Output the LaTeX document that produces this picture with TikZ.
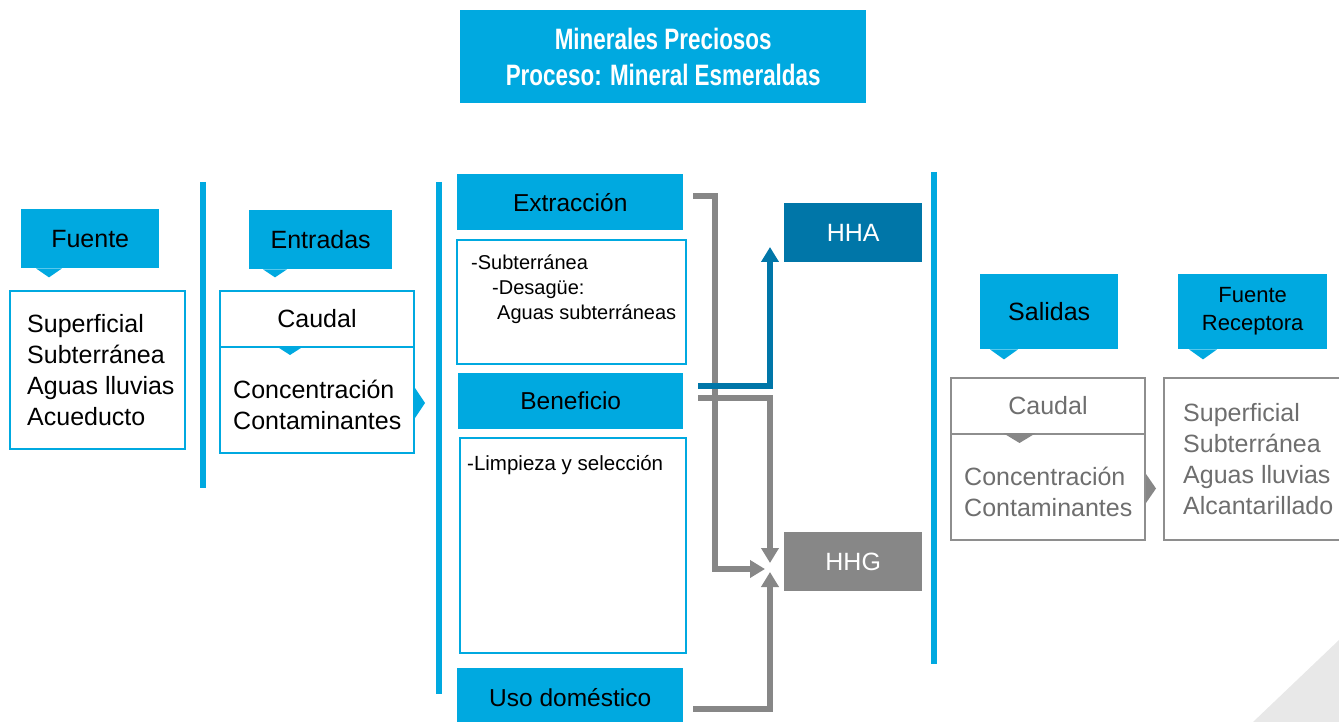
\documentclass[tikz,border=0pt]{standalone}
\usepackage{fontspec}
\setmainfont{Liberation Sans}
\usetikzlibrary{arrows.meta}
\definecolor{cyanA}{HTML}{00A9E0}
\definecolor{blueA}{HTML}{0076A8}
\definecolor{grayA}{HTML}{878787}
\definecolor{grayB}{HTML}{8E8E8E}
\definecolor{grayT}{HTML}{6E6E6E}
\definecolor{grayL}{HTML}{E8E8E8}
\newcommand{\fsz}[2]{\fontsize{#1}{#2}\selectfont}
\tikzset{>={Triangle[width=17pt,length=15pt]}}

\begin{document}
\begin{tikzpicture}[x=1pt,y=-1pt,
    hdr/.style={fill=cyanA, inner sep=0, anchor=north west, align=center},
    stage/.style={fill=cyanA, inner sep=0, anchor=north west, minimum width=226, minimum height=56, font=\fsz{24.5}{28}},
    cbox/.style={draw=cyanA, line width=2, inner sep=0, anchor=north west},
    gbox/.style={draw=grayB, line width=2, inner sep=0, anchor=north west, text=grayT},
    hh/.style={inner sep=0, anchor=north west, minimum width=138, minimum height=59, text=white, font=\fsz{25}{28}},
    list/.style={inner sep=0, anchor=west, align=left, font=\fsz{25}{31}},
    sep/.style={draw=cyanA, line width=6},
    gline/.style={draw=grayA, line width=6},
    bline/.style={draw=blueA, line width=6}]
    \useasboundingbox (0,0) rectangle (1339,722);

    \fill[grayL] (1253,722) -- (1339,640) -- (1339,722) -- cycle;

    \node[fill=cyanA, inner sep=0, anchor=north west, minimum width=406, minimum height=93,
        text=white, align=center, font=\fsz{29.5}{36}\bfseries] (title) at (460,10)
        {\scalebox{0.76}[1]{Minerales Preciosos}\\\scalebox{0.76}[1]{Proceso: Mineral Esmeraldas}};

    \draw[sep] (203,182) -- (203,488);
    \draw[sep] (439,182) -- (439,694);
    \draw[sep] (934,172) -- (934,664);

    \node[hdr, minimum width=138, minimum height=59, font=\fsz{25}{28}] (fhdr) at (21,209) {Fuente};
    \fill[cyanA] ([xshift=15]fhdr.south west) -- ++(13,9) -- ++(13,-9) -- cycle;
    \node[cbox, minimum width=175, minimum height=158] (fsrc) at (9,290) {};
    \node[list] (fsrctxt) at ([xshift=18]fsrc.west) {Superficial\\Subterránea\\Aguas lluvias\\Acueducto};

    \node[hdr, minimum width=143, minimum height=59, font=\fsz{25}{28}] (ehdr) at (249,210) {Entradas};
    \fill[cyanA] ([xshift=14]ehdr.south west) -- ++(12,8) -- ++(12,-8) -- cycle;
    \node[cbox, minimum width=194, minimum height=56, font=\fsz{25}{31}] (ecau) at (219,290) {Caudal};
    \node[cbox, minimum width=194, minimum height=106] (econ) at (219,346) {};
    \fill[cyanA] ([xshift=57]econ.north west) -- ++(14,9) -- ++(14,-9) -- cycle;
    \node[list] (econtxt) at ([xshift=14,yshift=-5]econ.west) {Concentración\\Contaminantes};
    \fill[cyanA] ([yshift=12]econ.east) -- ++(10,15) -- ++(-10,15) -- cycle;

    \node[stage] (extr) at (457,174) {Extracción};
    \node[cbox, minimum width=229, minimum height=124] (subt) at (456,239) {};
    \node[inner sep=0, anchor=west, align=left, font=\fsz{20}{25}] (subttxt) at ([xshift=15,yshift=13]subt.west)
        {-Subterránea\\\hspace*{21pt}-Desagüe:\\\hspace*{26pt}Aguas subterráneas};
    \node[stage, minimum width=225] (ben) at (458,373) {Beneficio};
    \node[cbox, minimum width=226, minimum height=215] (limp) at (459,437) {};
    \node[inner sep=0, anchor=west, font=\fsz{20.5}{25}] (limptxt) at ([shift={(8,28)}]limp.north west) {-Limpieza y selección};
    \node[stage, minimum height=58] (uso) at (457,668) {Uso doméstico};

    \node[hh, fill=blueA] (hha) at (784,203) {HHA};
    \node[hh, fill=grayA] (hhg) at (784,532) {HHG};
    \coordinate (hhain) at (770,247);
    \coordinate (hhgin) at (770,568);

    \draw[gline,->] ([xshift=10,yshift=6.5]extr.east) -- ++(22,0) |- ([xshift=-5,yshift=-1]hhgin);
    \draw[bline,->] ([xshift=15,yshift=15]ben.east) -| (hhain);
    \draw[gline,->] ([xshift=15,yshift=3]ben.east) -| ([yshift=5]hhgin);
    \draw[gline,->] ([xshift=10,yshift=-12]uso.east) -| ([yshift=-4]hhgin);

    \node[hdr, minimum width=138, minimum height=75, font=\fsz{25}{28}] (shdr) at (980,274) {Salidas};
    \fill[cyanA] ([xshift=10]shdr.south west) -- ++(14,10) -- ++(14,-10) -- cycle;
    \node[hdr, minimum width=149, minimum height=75, font=\fsz{22}{28}] (rhdr) at (1178,274) {Fuente\\Receptora};
    \fill[cyanA] ([xshift=11]rhdr.south west) -- ++(14,10) -- ++(14,-10) -- cycle;

    \node[gbox, minimum width=194, minimum height=56, font=\fsz{25}{31}] (scau) at (950,377) {Caudal};
    \node[gbox, minimum width=194, minimum height=106] (scon) at (950,433) {};
    \fill[grayA] ([xshift=53]scon.north west) -- ++(16.5,10) -- ++(16.5,-10) -- cycle;
    \node[list, text=grayT] (scontxt) at ([xshift=14,yshift=-5]scon.west) {Concentración\\Contaminantes};
    \fill[grayA] ([yshift=13]scon.east) -- ++(10,14.5) -- ++(-10,14.5) -- cycle;

    \node[gbox, minimum width=190, minimum height=162] (rbox) at (1163,377) {};
    \node[list, text=grayT] (rboxtxt) at ([xshift=20]rbox.west) {Superficial\\Subterránea\\Aguas lluvias\\Alcantarillado};
\end{tikzpicture}
\end{document}
